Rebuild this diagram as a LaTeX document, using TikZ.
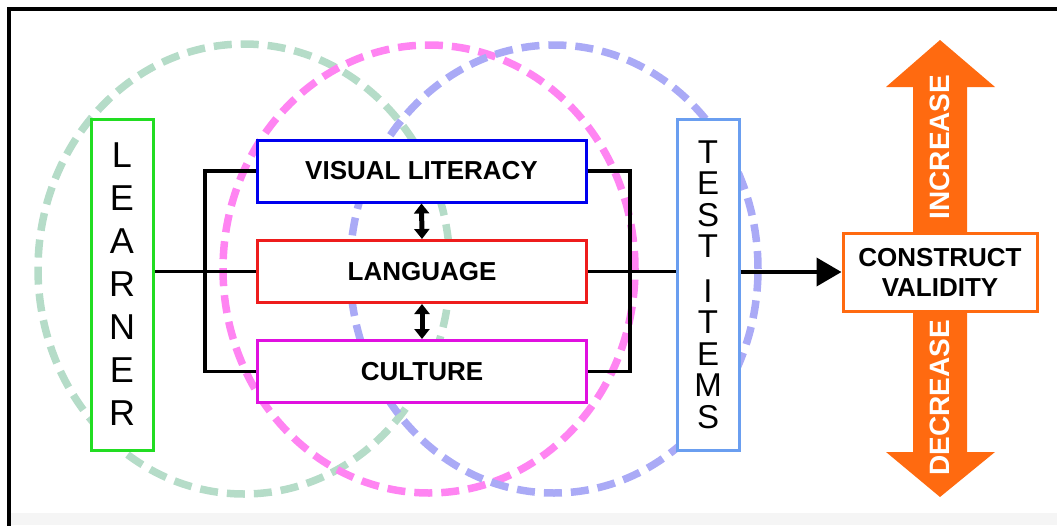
\documentclass[tikz,border=0pt]{standalone}
\usepackage{fontspec}
\setmainfont{Liberation Sans}
\usetikzlibrary{arrows.meta}
\definecolor{ringgreen}{HTML}{B5DCC8}
\definecolor{ringmag}{HTML}{FF84F2}
\definecolor{ringblue}{HTML}{AAAAF6}
\definecolor{boxgreen}{HTML}{22DD22}
\definecolor{boxblue}{HTML}{0000EE}
\definecolor{boxred}{HTML}{EE1C1C}
\definecolor{boxmag}{HTML}{E010E0}
\definecolor{boxlight}{HTML}{6A9EF0}
\definecolor{orng}{HTML}{FF6A10}
\begin{document}
\begin{tikzpicture}[x=1pt,y=-1pt,
  ring/.style={line width=7.5pt, dash pattern=on 18pt off 9pt},
  midbox/.style={draw, line width=3pt, fill=white, text=black, minimum width=329pt, minimum height=62pt, inner sep=0pt, font=\bfseries\fontsize{26}{30}\selectfont},
  tallbox/.style={draw, line width=3pt, fill=white, text=black, minimum width=62pt, minimum height=331pt, inner sep=0pt, align=center},
  conn/.style={line width=3.5pt, black},
  dbl/.style={line width=5pt, {Triangle[length=10pt,width=15pt]}-{Triangle[length=10pt,width=15pt]}},
  vlabel/.style={text=white, font=\bfseries\fontsize{28}{30}\selectfont, rotate=90}
]
\useasboundingbox (0,0) rectangle (1057,525);
\fill[black!4] (11,513) rectangle (1057,525);
\draw[line width=4pt] (9,527) -- (9,8.5) -- (1060,8.5);

% rings
\draw[ring, ringgreen] (244,269) ellipse [x radius=206pt, y radius=225pt];
\draw[ring, ringmag] (429,269) ellipse [x radius=206pt, y radius=224pt];
\draw[ring, ringblue] (554,269) ellipse [x radius=204pt, y radius=224pt];

% boxes
\node[tallbox, draw=boxgreen, font=\fontsize{36}{43}\selectfont] (learner) at (122,284.5) {L\\E\\A\\R\\N\\E\\R};
\node[tallbox, draw=boxlight, font=\fontsize{33}{31.5}\selectfont] (test) at (708,284.5) {T\\E\\S\\T\\[13pt]I\\T\\E\\M\\S};
\node[midbox, draw=boxblue] (vis) at (421.5,171) {VISUAL LITERACY};
\node[midbox, draw=boxred] (lang) at (422,271.5) {LANGUAGE};
\node[midbox, draw=boxmag] (cult) at (422,371.5) {CULTURE};

% connectors
\coordinate (lb) at (205,271.5);
\coordinate (rb) at (630,271.5);
\draw[conn] (lang.west) -- (lang.west -| learner.east);
\draw[conn] (vis.west) -| (lb) |- (cult.west);
\draw[conn] (vis.east) -| (rb) |- (cult.east);
\draw[conn] (lang.east) -- (lang.east -| test.west);
\draw[dbl] (vis.south) -- (lang.north);
\draw[dbl] (lang.south) -- (cult.north);

% orange arrows
\fill[orng] (913,240) -- (913,87) -- (886,87) -- (940,40) -- (995,87) -- (967,87) -- (967,240) -- cycle;
\fill[orng] (913,305) -- (913,452) -- (886,452) -- (940,497) -- (995,452) -- (967,452) -- (967,305) -- cycle;
\node[vlabel] (inc) at (940,147) {INCREASE};
\node[vlabel] (dec) at (940,398) {DECREASE};

\node[draw=orng, line width=3pt, fill=white, minimum width=194pt, minimum height=78pt, inner sep=0pt, align=center, font=\bfseries\fontsize{26}{30}\selectfont] (cv) at (940,272) {CONSTRUCT\\VALIDITY};

\draw[conn, line width=4pt, -{Triangle[length=25pt,width=28pt]}] (test.east |- cv.west) -- (cv.west);
\end{tikzpicture}
\end{document}
